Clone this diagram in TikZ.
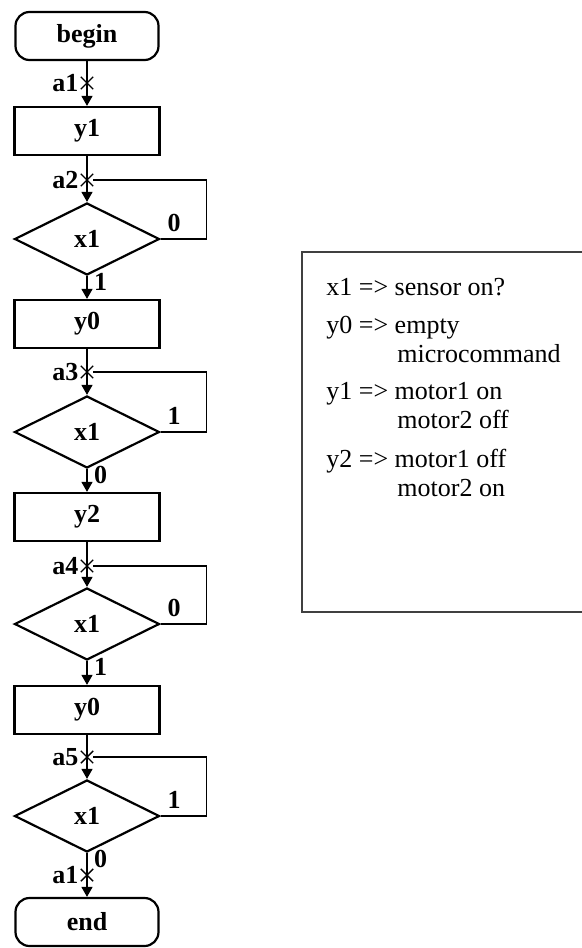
\documentclass[tikz,border=0pt]{standalone}
\usepackage{fontspec}
\setmainfont{Liberation Serif}
\usetikzlibrary{shapes.geometric,shapes.misc,arrows.meta}

\begin{document}
\begin{tikzpicture}[x=0.5pt,y=-0.5pt,
        >={Triangle[width=5.5pt,length=5pt]},
        txt/.style={font=\fontsize{13}{15}\selectfont,anchor=base west,inner sep=0pt},
        lbl/.style={font=\fontsize{13}{15}\selectfont\bfseries},
        term/.style={lbl,draw,line width=1.1pt,rounded corners=7pt,minimum width=71.5pt,minimum height=24pt,inner sep=0pt},
        oper/.style={lbl,draw,line width=1.1pt,minimum width=72.5pt,minimum height=24pt,inner sep=0pt},
        cond/.style={lbl,draw,diamond,aspect=2,line width=1.1pt,minimum width=72.5pt,minimum height=36pt,inner sep=0pt},
        xmark/.style={draw,cross out,line width=0.7pt,minimum size=5.5pt,inner sep=0pt},
        flow/.style={line width=0.7pt}]
        \useasboundingbox (0,0) rectangle (582,948);

        % 绘制流程框
        \node[term] (begin) at (87,36) {begin};
        \node[oper] (y1) at (87,131) {y1};
        \node[cond] (c1) at (87,239) {x1};
        \node[oper] (y0a) at (87,324) {y0};
        \node[cond] (c2) at (87,432) {x1};
        \node[oper] (y2) at (87,517) {y2};
        \node[cond] (c3) at (87,624) {x1};
        \node[oper] (y0b) at (87,710) {y0};
        \node[cond] (c4) at (87,816) {x1};
        \node[term] (end) at (87,922) {end};

        % 绘制状态标记
        \node[xmark] (a1) at (87,83) {};
        \node[xmark] (a2) at (87,180) {};
        \node[xmark] (a3) at (87,372) {};
        \node[xmark] (a4) at (87,566) {};
        \node[xmark] (a5) at (87,757) {};
        \node[xmark] (a1e) at (87,875) {};
        \node[lbl,anchor=east,inner sep=1pt] at (a1.west) {a1};
        \node[lbl,anchor=east,inner sep=1pt] at (a2.west) {a2};
        \node[lbl,anchor=east,inner sep=1pt] at (a3.west) {a3};
        \node[lbl,anchor=east,inner sep=1pt] at (a4.west) {a4};
        \node[lbl,anchor=east,inner sep=1pt] at (a5.west) {a5};
        \node[lbl,anchor=east,inner sep=1pt] at (a1e.west) {a1};

        % 绘制连线
        \draw[->,flow] (begin) -- (y1);
        \draw[->,flow] (y1) -- (c1);
        \draw[->,flow] (c1) -- (y0a);
        \draw[->,flow] (y0a) -- (c2);
        \draw[->,flow] (c2) -- (y2);
        \draw[->,flow] (y2) -- (c3);
        \draw[->,flow] (c3) -- (y0b);
        \draw[->,flow] (y0b) -- (c4);
        \draw[->,flow] (c4) -- (end);

        % 绘制回路
        \draw[flow] (c1.east) -- ++(46,0) |- (a2);
        \draw[flow] (c2.east) -- ++(46,0) |- (a3);
        \draw[flow] (c3.east) -- ++(46,0) |- (a4);
        \draw[flow] (c4.east) -- ++(46,0) |- (a5);

        % 绘制分支标签
        \node[lbl,above right] at (c1.east) {0};
        \node[lbl,right,yshift=-3pt] at (c1.south) {1};
        \node[lbl,above right] at (c2.east) {1};
        \node[lbl,right,yshift=-3pt] at (c2.south) {0};
        \node[lbl,above right] at (c3.east) {0};
        \node[lbl,right,yshift=-3pt] at (c3.south) {1};
        \node[lbl,above right] at (c4.east) {1};
        \node[lbl,right,yshift=-3pt] at (c4.south) {0};

        % 绘制说明框
        \draw[line width=0.65pt,black!75] (582,252) -- (302,252) -- (302,612) -- (582,612);
        \node[txt] (lx1) at (326,295) {x1 => sensor on?};
        \node[txt] (ly0) at (326,333) {y0 => empty};
        \node[txt] (ly0b) at (397,362.5) {microcommand};
        \node[txt] (ly1) at (326,399) {y1 => motor1 on};
        \node[txt] (ly1b) at (397,428.5) {motor2 off};
        \node[txt] (ly2) at (326,467) {y2 => motor1 off};
        \node[txt] (ly2b) at (397,496.5) {motor2 on};
    \end{tikzpicture}
\end{document}
